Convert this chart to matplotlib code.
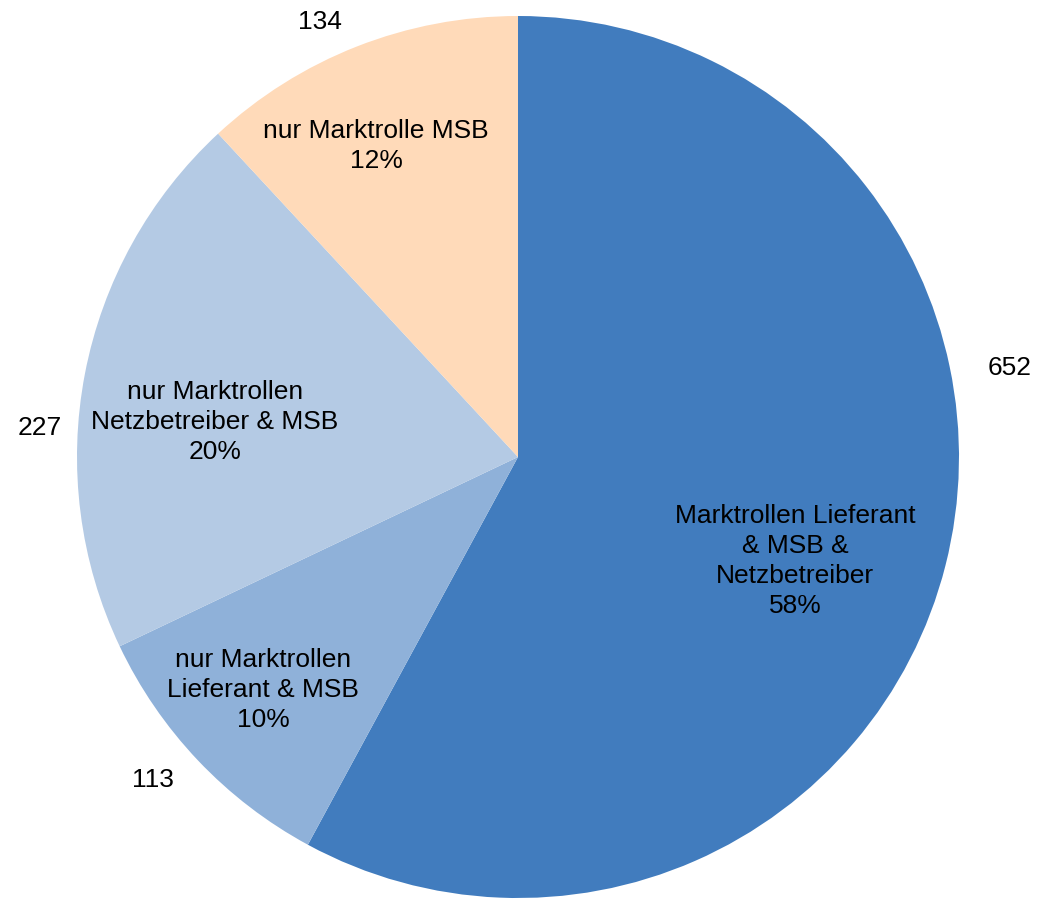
import matplotlib.pyplot as plt

plt.rcParams['font.family'] = ['Liberation Sans', 'DejaVu Sans']

labels = ["Marktrollen Lieferant\n& MSB &\nNetzbetreiber",
          "nur Marktrollen\nLieferant & MSB",
          "nur Marktrollen\nNetzbetreiber & MSB",
          "nur Marktrolle MSB"]
counts = [652, 113, 227, 134]
colors = ["#417CBE", "#8FB1D9", "#B4CAE4", "#FFDAB9"]

# label anchor points in pixels (reference image), converted to data units below
inner_px = [(795, 561), (263, 690), (215, 422), (376, 146)]
outer_px = [(1010, 368), (153, 780), (40, 428), (320, 22)]

W, H = 1039, 900
cx, cy, R = 518, 457, 441

fig = plt.figure(figsize=(W / 100, H / 100), dpi=100)
ax = fig.add_axes([0, 0, 1, 1])
ax.pie(counts, colors=colors, startangle=90, counterclock=False, radius=1,
       wedgeprops=dict(linewidth=0))
ax.set_xlim(-cx / R, (W - cx) / R)
ax.set_ylim((cy - H) / R, cy / R)
ax.set_aspect('equal')
ax.axis('off')


def to_data(p):
    return (p[0] - cx) / R, (cy - p[1]) / R


total = sum(counts)
for lab, n, pi, po in zip(labels, counts, inner_px, outer_px):
    x, y = to_data(pi)
    ax.text(x, y, f"{lab}\n{round(100 * n / total)}%", ha='center', va='center',
            fontsize=19, linespacing=1.33)
    x, y = to_data(po)
    ax.text(x, y, str(n), ha='center', va='center', fontsize=19)

fig.savefig("out.png", dpi=100)
